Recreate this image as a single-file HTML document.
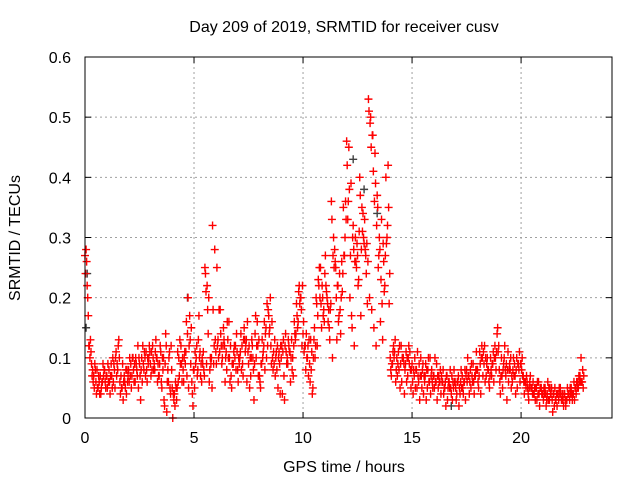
<!DOCTYPE html>
<html><head><meta charset="utf-8"><style>
body{margin:0;background:#fff}
svg{display:block;font-family:"Liberation Sans",sans-serif}
</style></head><body>
<svg id="chart" width="640" height="480">
<text x="344" y="32" font-size="16" text-anchor="middle" fill="#000">Day 209 of 2019, SRMTID for receiver cusv</text>
<text x="344" y="472" font-size="16" text-anchor="middle">GPS time / hours</text>
<text transform="translate(20,238) rotate(-90)" font-size="16" text-anchor="middle">SRMTID / TECUs</text>
<g id="grid"></g><g id="ticks"></g><g id="marks"></g>
<rect x="85" y="57" width="527" height="361" fill="none" stroke="#000" stroke-width="1"/>
</svg>
<script>
const xTicks=[0,5,10,15,20];
const yTicks=[0,0.1,0.2,0.3,0.4,0.5,0.6];
const yTickLabels=["0","0.1","0.2","0.3","0.4","0.5","0.6"];
const slotStep=0.1;
const seriesA=[0.27,0.22,0.12,0.09,0.07,0.06,0.05,0.07,0.06,0.08,
0.07,0.08,0.09,0.06,0.1,0.08,0.06,0.05,0.07,0.04,
0.08,0.09,0.1,0.06,0.07,0.09,0.1,0.08,0.11,0.09,
0.09,0.12,0.08,0.1,0.07,0.06,0.1,0.14,0.08,0.05,
0.05,0.04,0.03,0.1,0.12,0.08,0.09,0.14,0.17,0.06,
0.08,0.1,0.13,0.07,0.09,0.25,0.22,0.06,0.1,0.09,
0.11,0.13,0.18,0.1,0.12,0.08,0.16,0.07,0.09,0.12,
0.08,0.1,0.12,0.15,0.13,0.09,0.07,0.1,0.14,0.16,
0.07,0.09,0.12,0.15,0.18,0.2,0.1,0.13,0.08,0.11,
0.1,0.13,0.14,0.09,0.11,0.08,0.16,0.19,0.21,0.2,
0.14,0.12,0.1,0.09,0.11,0.13,0.2,0.23,0.25,0.2,
0.24,0.2,0.15,0.36,0.3,0.25,0.22,0.18,0.21,0.27,
0.46,0.45,0.39,0.32,0.3,0.27,0.4,0.35,0.29,0.24,
0.53,0.5,0.47,0.44,0.37,0.3,0.33,0.26,0.4,0.42,
0.1,0.09,0.11,0.1,0.08,0.12,0.1,0.09,0.07,0.11,
0.09,0.07,0.08,0.06,0.1,0.09,0.07,0.05,0.06,0.08,
0.07,0.06,0.05,0.08,0.06,0.05,0.07,0.06,0.04,0.05,
0.05,0.06,0.04,0.07,0.06,0.08,0.07,0.05,0.09,0.07,
0.08,0.11,0.12,0.09,0.07,0.08,0.1,0.09,0.12,0.14,
0.08,0.1,0.09,0.07,0.11,0.08,0.06,0.09,0.1,0.08,
0.09,0.07,0.06,0.05,0.06,0.05,0.04,0.05,0.06,0.05,
0.04,0.05,0.04,0.03,0.05,0.04,0.03,0.04,0.05,0.04,
0.04,0.03,0.04,0.05,0.04,0.05,0.06,0.07,0.06];
const seriesB=[0.24,0.2,0.1,0.07,0.05,0.04,0.07,0.04,0.09,0.06,
0.05,0.06,0.07,0.09,0.11,0.12,0.04,0.09,0.06,0.08,
0.06,0.05,0.08,0.1,0.12,0.07,0.06,0.11,0.08,0.1,
0.07,0.1,0.11,0.06,0.09,0.05,0.03,0.12,0.06,0.04,
0.0,0.02,0.05,0.07,0.09,0.06,0.11,0.2,0.13,0.04,
0.05,0.12,0.17,0.09,0.11,0.24,0.18,0.08,0.05,0.12,
0.09,0.1,0.14,0.12,0.06,0.16,0.1,0.05,0.11,0.08,
0.06,0.11,0.09,0.13,0.06,0.12,0.1,0.08,0.17,0.12,
0.06,0.13,0.16,0.1,0.17,0.12,0.08,0.07,0.12,0.09,
0.12,0.07,0.11,0.13,0.06,0.1,0.14,0.17,0.22,0.18,
0.16,0.08,0.12,0.06,0.04,0.15,0.19,0.22,0.19,0.17,
0.27,0.19,0.13,0.33,0.25,0.2,0.16,0.14,0.24,0.3,
0.42,0.38,0.17,0.28,0.26,0.22,0.37,0.31,0.33,0.29,
0.51,0.45,0.41,0.39,0.35,0.28,0.19,0.21,0.29,0.35,
0.08,0.11,0.13,0.07,0.12,0.06,0.09,0.11,0.1,0.08,
0.06,0.1,0.05,0.09,0.07,0.04,0.09,0.08,0.1,0.06,
0.05,0.09,0.07,0.04,0.08,0.06,0.03,0.05,0.07,0.08,
0.03,0.07,0.06,0.05,0.08,0.06,0.04,0.09,0.06,0.08,
0.06,0.09,0.1,0.12,0.09,0.06,0.08,0.11,0.1,0.15,
0.06,0.07,0.1,0.09,0.06,0.1,0.08,0.07,0.05,0.11,
0.08,0.06,0.05,0.04,0.07,0.04,0.05,0.03,0.04,0.05,
0.03,0.04,0.06,0.05,0.03,0.02,0.04,0.03,0.04,0.03,
0.03,0.05,0.03,0.04,0.06,0.04,0.05,0.06,0.08];
const seriesC=[0.28,0.17,0.13,0.08,0.09,0.08,0.06,0.05,0.07,0.05,
0.09,0.04,0.05,0.08,0.07,0.13,0.07,0.03,0.05,0.06,
0.1,0.07,0.06,0.09,0.05,0.03,0.12,0.1,0.06,0.12,
0.11,0.08,0.13,0.09,0.12,0.1,0.02,0.01,0.1,0.12,
0.04,0.06,0.11,0.13,0.06,0.1,0.16,0.05,0.09,0.02,
0.11,0.07,0.1,0.06,0.08,0.21,0.14,0.1,0.32,0.28,
0.25,0.18,0.12,0.15,0.1,0.13,0.06,0.09,0.12,0.14,
0.1,0.14,0.07,0.11,0.16,0.05,0.13,0.03,0.1,0.07,
0.05,0.1,0.08,0.19,0.14,0.09,0.11,0.1,0.05,0.04,
0.04,0.03,0.09,0.12,0.1,0.07,0.13,0.15,0.19,0.12,
0.11,0.14,0.07,0.13,0.05,0.1,0.12,0.25,0.15,0.18,
0.22,0.16,0.18,0.1,0.28,0.13,0.17,0.2,0.35,0.36,
0.33,0.2,0.15,0.12,0.25,0.23,0.17,0.34,0.28,0.19,
0.2,0.18,0.15,0.12,0.25,0.16,0.13,0.22,0.3,0.19,
0.07,0.12,0.06,0.09,0.05,0.1,0.04,0.06,0.12,0.05,
0.04,0.05,0.11,0.03,0.05,0.07,0.03,0.1,0.04,0.05,
0.1,0.03,0.06,0.07,0.04,0.02,0.05,0.08,0.03,0.06,
0.04,0.02,0.08,0.04,0.03,0.1,0.06,0.07,0.04,0.11,
0.05,0.04,0.07,0.06,0.1,0.05,0.07,0.06,0.08,0.11,
0.04,0.05,0.12,0.03,0.08,0.05,0.1,0.04,0.09,0.06,
0.1,0.04,0.07,0.03,0.05,0.06,0.03,0.06,0.02,0.04,
0.05,0.02,0.03,0.04,0.01,0.05,0.02,0.05,0.03,0.02,
0.02,0.04,0.05,0.03,0.03,0.06,0.07,0.1,0.05];
const seriesD=[0.26,0.12,0.11,0.06,0.08,0.05,0.04,0.06,0.08,0.07,
0.06,0.07,0.1,0.05,0.09,0.1,0.05,0.06,0.08,0.07,
0.07,0.1,0.09,0.08,0.1,0.08,0.09,0.07,0.1,0.11,
0.08,0.09,0.1,0.07,0.11,0.08,0.09,0.06,0.11,0.08,
0.03,0.05,0.06,0.09,0.1,0.11,0.07,0.12,0.15,0.08,
0.09,0.08,0.11,0.1,0.07,0.09,0.2,0.09,0.18,0.13,
0.12,0.11,0.09,0.13,0.11,0.1,0.12,0.09,0.1,0.11,
0.09,0.08,0.13,0.12,0.11,0.1,0.12,0.09,0.12,0.13,
0.09,0.11,0.14,0.12,0.15,0.16,0.09,0.11,0.1,0.12,
0.11,0.12,0.1,0.11,0.13,0.12,0.14,0.16,0.2,0.22,
0.12,0.1,0.13,0.08,0.1,0.12,0.17,0.2,0.22,0.16,
0.21,0.18,0.19,0.27,0.26,0.22,0.24,0.26,0.27,0.33,
0.36,0.27,0.3,0.26,0.29,0.31,0.28,0.3,0.27,0.26,
0.49,0.47,0.36,0.32,0.27,0.23,0.29,0.27,0.32,0.24,
0.09,0.1,0.08,0.11,0.09,0.1,0.08,0.1,0.09,0.08,
0.08,0.08,0.07,0.07,0.08,0.06,0.08,0.06,0.07,0.07,
0.06,0.07,0.06,0.06,0.05,0.07,0.06,0.05,0.06,0.06,
0.06,0.05,0.05,0.06,0.07,0.07,0.08,0.06,0.07,0.08,
0.07,0.1,0.11,0.1,0.08,0.07,0.09,0.1,0.11,0.12,
0.07,0.08,0.08,0.08,0.09,0.07,0.07,0.08,0.09,0.09,
0.07,0.06,0.06,0.05,0.05,0.04,0.05,0.04,0.05,0.04,
0.04,0.03,0.05,0.04,0.04,0.03,0.04,0.04,0.03,0.04,
0.03,0.04,0.04,0.04,0.05,0.05,0.06,0.06,0.07];
const grayHours=[0.05,4.7,12.3,12.8,13.4,0.1,16.8];
const grayValues=[0.15,0.2,0.43,0.38,0.34,0.24,0.02];

const NS="http://www.w3.org/2000/svg";
const L=85,R=612,T=57,B=418,XMAX=24.17,YMAX=0.6;
const xs=h=>L+(R-L)*h/XMAX, ys=v=>B-(B-T)*v/YMAX;
const grid=document.getElementById('grid'),ticks=document.getElementById('ticks'),marks=document.getElementById('marks');
function ln(g,x1,y1,x2,y2,st,dash){const e=document.createElementNS(NS,'line');e.setAttribute('x1',x1);e.setAttribute('y1',y1);e.setAttribute('x2',x2);e.setAttribute('y2',y2);e.setAttribute('stroke',st);if(dash)e.setAttribute('stroke-dasharray',dash);g.appendChild(e);return e;}
function tx(x,y,s,anchor){const e=document.createElementNS(NS,'text');e.setAttribute('x',x);e.setAttribute('y',y);e.setAttribute('font-size','16');e.setAttribute('text-anchor',anchor);e.textContent=s;ticks.appendChild(e);return e;}
xTicks.forEach(v=>{const x=xs(v);
 if(v>0){const g=ln(grid,x,T,x,B,'#a0a0a0','2,3');
 
 }
 ln(ticks,x,B,x,B-6,'#000');ln(ticks,x,T,x,T+6,'#000');
 const t=tx(x,443,String(v),'middle');
 
 });
yTicks.forEach((v,i)=>{const y=ys(v);
 if(v>0&&v<0.6){const g=ln(grid,L,y,R,y,'#a0a0a0','2,3');
 
 }
 ln(ticks,L,y,L+6,y,'#000');ln(ticks,R,y,R-6,y,'#000');
 const t=tx(71,y+6,yTickLabels[i],'end');
 
 });
function plus(h,v,col){const x=xs(h),y=ys(v);const p=document.createElementNS(NS,'path');
 p.setAttribute('d',`M${x-4},${y}H${x+4}M${x},${y-4}V${y+4}`);
 p.setAttribute('stroke',col);p.setAttribute('stroke-width','1.4');
 
 
 marks.appendChild(p);}
grayHours.forEach((h,i)=>plus(h,grayValues[i],'#404040'));
[seriesA,seriesB,seriesC,seriesD].forEach((s,k)=>s.forEach((v,i)=>plus(i*slotStep+k*0.025,v,'#ff0000')));
</script>
</body></html>
